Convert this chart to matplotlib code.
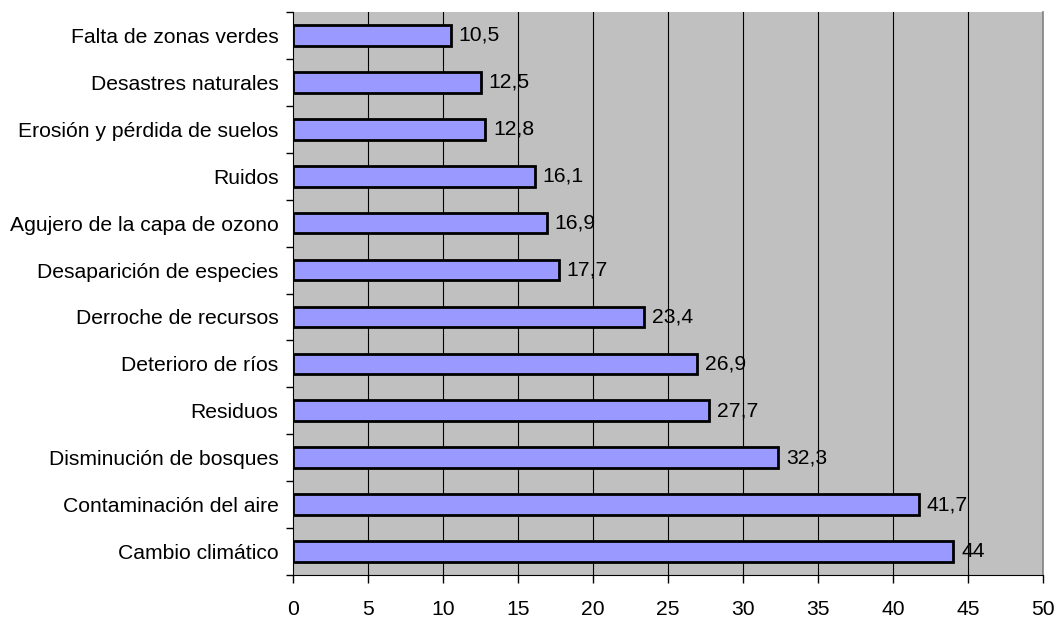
import matplotlib
matplotlib.use("Agg")
import matplotlib.pyplot as plt
import numpy as np

categories = ["Cambio climático", "Contaminación del aire", "Disminución de bosques",
              "Residuos", "Deterioro de ríos", "Derroche de recursos",
              "Desaparición de especies", "Agujero de la capa de ozono", "Ruidos",
              "Erosión y pérdida de suelos", "Desastres naturales", "Falta de zonas verdes"]
values = [44, 41.7, 32.3, 27.7, 26.9, 23.4, 17.7, 16.9, 16.1, 12.8, 12.5, 10.5]
labels = ["44", "41,7", "32,3", "27,7", "26,9", "23,4", "17,7", "16,9", "16,1", "12,8", "12,5", "10,5"]
xticks = [0, 5, 10, 15, 20, 25, 30, 35, 40, 45, 50]

plt.rcParams['font.family'] = ['Liberation Sans', 'DejaVu Sans']
FS = 15.2

fig = plt.figure(figsize=(10.61, 6.22), dpi=100)
ax = fig.add_axes([293/1061, 1-575/622, 750/1061, 563/622])
ax.set_facecolor('#C0C0C0')

y = np.arange(len(categories))
ax.barh(y, values, height=0.44, color='#9999FF', edgecolor='black', linewidth=2, zorder=3)
for yi, v, lab in zip(y, values, labels):
    ax.text(v + 0.55, yi, lab, va='center', ha='left', fontsize=FS, zorder=4)

ax.set_xlim(0, 50)
ax.set_ylim(-0.5, len(categories) - 0.5)
ax.set_xticks(xticks)
ax.set_xticklabels([str(t) for t in xticks], fontsize=FS)
ax.set_yticks(y)
ax.set_yticklabels(categories, fontsize=FS)
ax.set_yticks(np.arange(-0.5, len(categories), 1), minor=True)
ax.tick_params(axis='y', which='major', length=0, pad=10.5)
ax.tick_params(axis='y', which='minor', length=5, direction='out', width=1)
ax.tick_params(axis='x', which='major', length=6, direction='out', width=1, pad=12)

for t in xticks[1:-1]:
    ax.axvline(t, color='black', linewidth=0.8, zorder=1)

ax.spines['top'].set_visible(False)
ax.spines['right'].set_color('#808080')
ax.spines['right'].set_linewidth(1.2)
ax.spines['left'].set_color('black')
ax.spines['bottom'].set_color('black')

fig.savefig('out.png', dpi=100)
